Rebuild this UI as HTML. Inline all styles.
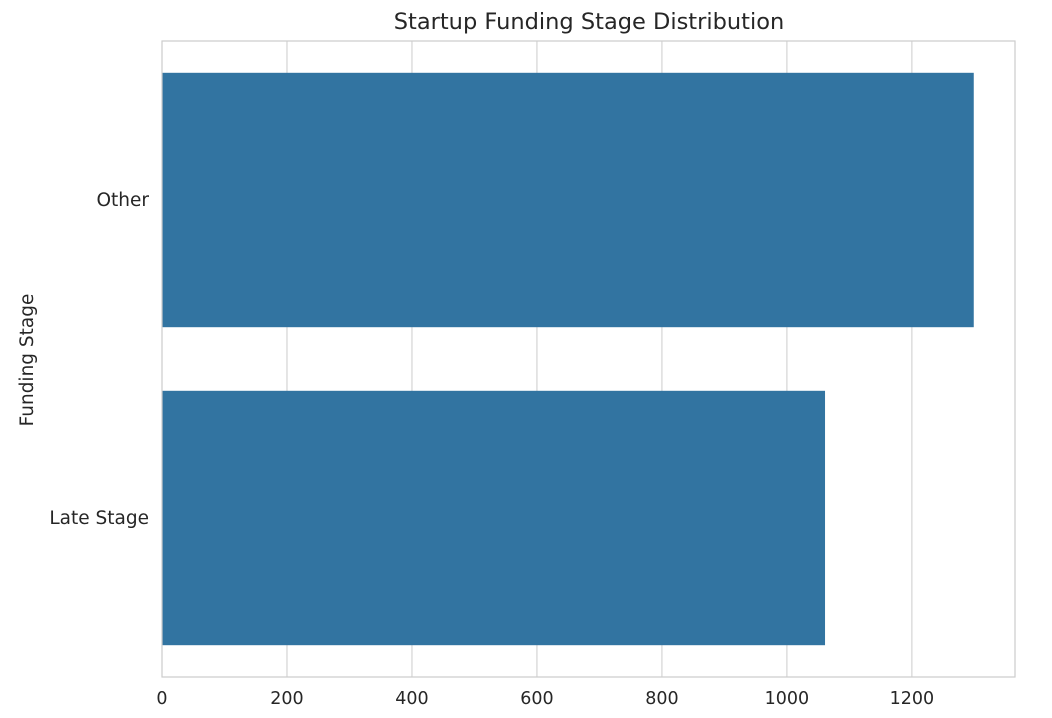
<!DOCTYPE html>
<html><head><meta charset="utf-8"><style>
body{margin:0;background:#fff;}
svg text{font-family:"DejaVu Sans","Liberation Sans",sans-serif;fill:#262626;}
</style></head><body>
<svg width="1052" height="713" xmlns="http://www.w3.org/2000/svg">
<g id="g"></g>
</svg>
<script>
const categories=["Other","Late Stage"];
const values=[1299,1061];
const ticks=[0,200,400,600,800,1000,1200];
const L=162,R=1015,T=41,B=677,XMAX=1365;
const x=v=>L+(v/XMAX)*(R-L);
const band=(B-T)/categories.length;
const y=i=>T+band*(i+0.5);
const g=document.getElementById('g');
const NS='http://www.w3.org/2000/svg';
function mk(t,a){const e=document.createElementNS(NS,t);for(const k in a)e.setAttribute(k,a[k]);g.appendChild(e);return e;}
ticks.forEach(t=>{
 const l=mk('line',{x1:x(t),x2:x(t),y1:T,y2:B,stroke:'#cccccc','stroke-width':1});
 
 
 const tx=mk('text',{x:x(t),y:704,'text-anchor':'middle','font-size':17.5});
 tx.textContent=t;
 
 
});
categories.forEach((c,i)=>{
 const h=band*0.8;
 const r=mk('rect',{x:L,y:y(i)-h/2,width:x(values[i])-L,height:h,fill:'#3274a1'});
 
 
 const tx=mk('text',{x:149,y:y(i)+6,'text-anchor':'end','font-size':18.5});
 tx.textContent=c;
 
 
});
const fr=mk('rect',{x:L,y:T,width:R-L,height:B-T,fill:'none',stroke:'#cccccc','stroke-width':1.2});


const ti=mk('text',{x:(L+R)/2+0.5,y:29,'text-anchor':'middle','font-size':22.5});
ti.textContent='Startup Funding Stage Distribution';


const yt=mk('text',{x:33,y:360,'text-anchor':'middle','font-size':18.5,transform:'rotate(-90 33 360)'});
yt.textContent='Funding Stage';


</script>
</body></html>
